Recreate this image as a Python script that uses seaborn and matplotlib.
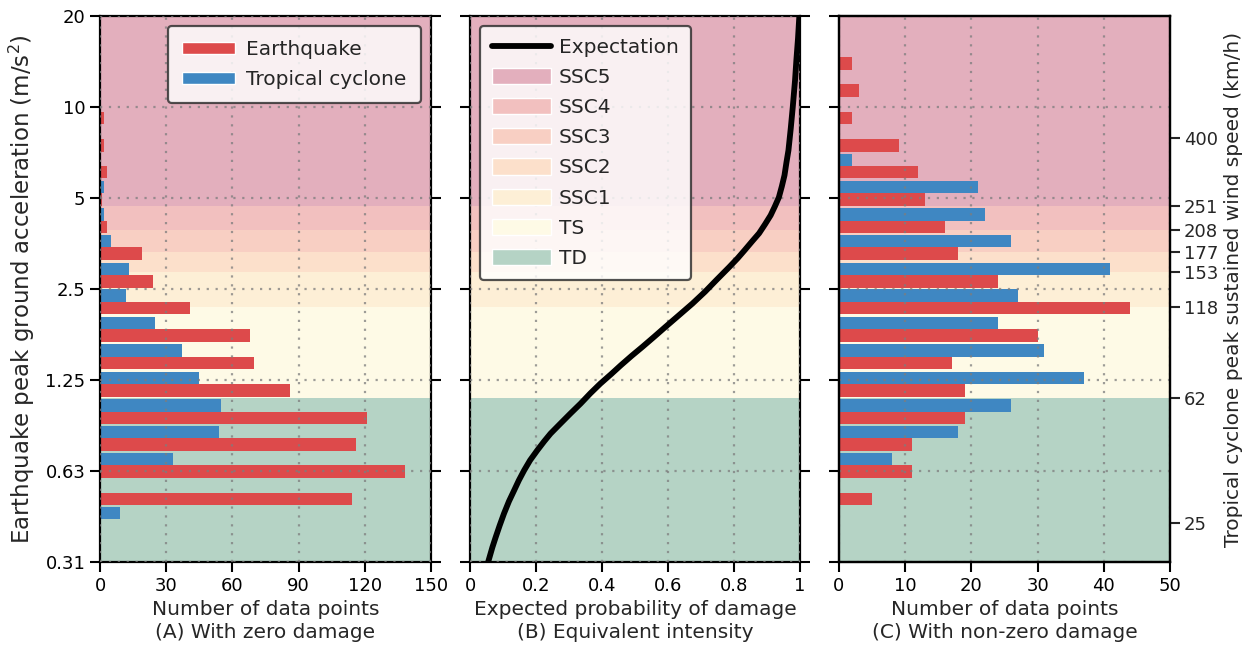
import numpy as np
import pandas as pd
import matplotlib
matplotlib.use("Agg")
import matplotlib.pyplot as plt
import seaborn as sns
from matplotlib.patches import Patch
from matplotlib.lines import Line2D
from matplotlib.ticker import NullLocator

# ---------------- data ----------------
hazards = ["Earthquake", "Tropical cyclone"]
pga_bins = [14.6, 11.9, 9.66, 7.83, 6.38, 5.19, 4.21, 3.44, 2.78, 2.27,
            1.84, 1.49, 1.21, 0.983, 0.803, 0.652, 0.530, 0.432]
zero_eq = [0, 0, 2, 2, 3, 1, 3, 19, 24, 41, 68, 70, 86, 121, 116, 138, 114, 0]
zero_tc = [0, 0, 0, 0, 0, 2, 2, 5, 13, 12, 25, 37, 45, 55, 54, 33, 0, 9]
nonzero_eq = [2, 3, 2, 9, 12, 13, 16, 18, 24, 44, 30, 17, 19, 19, 11, 11, 5, 0]
nonzero_tc = [0, 0, 0, 0, 2, 21, 22, 26, 41, 27, 24, 31, 37, 26, 18, 8, 0, 0]

curve_pga = [0.3125, 0.350, 0.378, 0.413, 0.452, 0.496, 0.540, 0.582, 0.628, 0.678,
             0.732, 0.784, 0.831, 0.897, 0.970, 1.044, 1.130, 1.216, 1.305, 1.398,
             1.503, 1.607, 1.737, 1.872, 2.046, 2.237, 2.447, 2.672, 2.950, 3.159,
             3.357, 3.595, 3.821, 4.092, 4.382, 4.694, 5.027, 5.465, 5.943, 6.562,
             7.189, 8.502, 9.977, 12.26, 14.27, 16.87, 20.0]
curve_prob = [0.055, 0.068, 0.078, 0.090, 0.103, 0.118, 0.134, 0.148, 0.164, 0.182,
              0.204, 0.225, 0.244, 0.274, 0.305, 0.335, 0.365, 0.395, 0.427, 0.457,
              0.490, 0.522, 0.558, 0.592, 0.633, 0.674, 0.712, 0.746, 0.785, 0.811,
              0.832, 0.855, 0.876, 0.894, 0.911, 0.924, 0.936, 0.945, 0.953, 0.959,
              0.965, 0.972, 0.978, 0.985, 0.989, 0.994, 0.998]

categories = ["SSC5", "SSC4", "SSC3", "SSC2", "SSC1", "TS", "TD"]
category_lower = [4.72, 3.91, 3.31, 2.84, 2.175, 1.093, 0.3125]
category_upper = [20.0, 4.72, 3.91, 3.31, 2.84, 2.175, 1.093]
category_colors = ["#e3afbd", "#f2c0bf", "#f8cfc3", "#fce0cb", "#fdefd6", "#fefae6", "#b5d3c5"]

pga_ticks = [0.3125, 0.625, 1.25, 2.5, 5, 10, 20]
pga_ticklabels = ["0.31", "0.63", "1.25", "2.5", "5", "10", "20"]
wind_ticks = [25, 62, 118, 153, 177, 208, 251, 400]
wind_tick_pga = [0.4205, 1.093, 2.175, 2.84, 3.31, 3.91, 4.72, 7.88]

red = "#dd4a4b"
blue = "#3f87c2"

# ---------------- style ----------------
sns.set_style("ticks")
plt.rcParams["font.family"] = ["DejaVu Sans"]
plt.rcParams["axes.linewidth"] = 1.6
plt.rcParams["axes.edgecolor"] = "black"

FS_TICK = 13
FS_LAB = 14.5

W, H = 1257, 652
fig = plt.figure(figsize=(W / 100, H / 100), dpi=100)


def rect(x0, x1, y0, y1):
    return [x0 / W, 1 - y1 / H, (x1 - x0) / W, (y1 - y0) / H]


axA = fig.add_axes(rect(100, 431, 16, 562))
axB = fig.add_axes(rect(470, 800, 16, 562))
axC = fig.add_axes(rect(839, 1170, 16, 562))


def long_df(eq, tc):
    n = len(pga_bins)
    return pd.DataFrame({
        "pga": pga_bins * 2,
        "count": list(eq) + list(tc),
        "hazard": [hazards[0]] * n + [hazards[1]] * n,
    })


for ax in (axA, axB, axC):
    ax.set_yscale("log")

bar_kw = dict(x="count", y="pga", hue="hazard", hue_order=hazards, palette=[red, blue],
              orient="y", native_scale=True, width=0.94, errorbar=None, legend=False,
              linewidth=0, saturation=1, zorder=2)
sns.barplot(data=long_df(zero_eq, zero_tc), ax=axA, **bar_kw)
sns.barplot(data=long_df(nonzero_eq, nonzero_tc), ax=axC, **bar_kw)
sns.lineplot(x=curve_prob, y=curve_pga, ax=axB, color="black", linewidth=4.2,
             sort=False, estimator=None, zorder=3, solid_joinstyle="round",
             solid_capstyle="butt")

grid_kw = dict(linestyle=(0, (1, 3)), color="#7d7d7d", linewidth=1.6, alpha=0.75)
for ax in (axA, axB, axC):
    ax.set_yscale("log")
    ax.set_ylim(0.3125, 20)
    for lo, hi, c in zip(category_lower, category_upper, category_colors):
        ax.axhspan(lo, hi, color=c, lw=0, zorder=0)
    ax.set_yticks(pga_ticks)
    ax.set_yticklabels(pga_ticklabels)
    ax.yaxis.set_minor_locator(NullLocator())
    ax.set_axisbelow(False)
    ax.grid(True, which="major", **grid_kw)
    ax.tick_params(axis="both", which="major", direction="out", length=7, width=1.5,
                   labelsize=FS_TICK, colors="black")
    ax.set_ylabel("")
    for s in ax.spines.values():
        s.set_visible(True)
        s.set_linewidth(1.6)
        s.set_color("black")

axA.set_xlim(0, 150)
axA.set_xticks([0, 30, 60, 90, 120, 150])
axA.tick_params(axis="y", left=True, right=True, labelleft=True)
axA.set_ylabel("Earthquake peak ground acceleration (m/s$^2$)", fontsize=16.5, labelpad=6)

axB.set_xlim(0, 1)
axB.set_xticks([0, 0.2, 0.4, 0.6, 0.8, 1.0])
axB.set_xticklabels(["0", "0.2", "0.4", "0.6", "0.8", "1"])
axB.tick_params(axis="y", left=True, right=True, labelleft=False)

axC.set_xlim(0, 50)
axC.set_xticks([0, 10, 20, 30, 40, 50])
axC.tick_params(axis="y", left=True, right=False, labelleft=False)

axA.set_xlabel("Number of data points", fontsize=FS_LAB)
axB.set_xlabel("Expected probability of damage", fontsize=FS_LAB)
axC.set_xlabel("Number of data points", fontsize=FS_LAB)

axW = axC.twinx()
axW.set_yscale("log")
axW.set_ylim(0.3125, 20)
axW.set_yticks(wind_tick_pga)
axW.set_yticklabels([str(w) for w in wind_ticks])
axW.yaxis.set_minor_locator(NullLocator())
axW.tick_params(axis="y", direction="out", length=7, width=1.5, labelsize=FS_TICK, pad=3)
axW.set_ylabel("Tropical cyclone peak sustained wind speed (km/h)", fontsize=FS_LAB)
for s in axW.spines.values():
    s.set_linewidth(1.6)

# legends
leg_kw = dict(fontsize=FS_LAB, frameon=True, framealpha=0.82, edgecolor="#2b2b2b",
              fancybox=True)
hA = [Patch(facecolor=red, label=hazards[0]), Patch(facecolor=blue, label=hazards[1])]
legA = axA.legend(handles=hA, loc="upper right", handlelength=2.65, handleheight=0.55,
                  labelspacing=0.55, borderpad=0.7, handletextpad=0.55, **leg_kw)
legA.get_frame().set_linewidth(1.6)

hB = [Line2D([0], [0], color="black", lw=4.2, label="Expectation")]
hB += [Patch(facecolor=c, label=n) for n, c in zip(categories, category_colors)]
legB = axB.legend(handles=hB, loc="upper left", handlelength=2.9, handleheight=0.85,
                  labelspacing=0.55, borderpad=0.6, handletextpad=0.4, **leg_kw)
legB.get_frame().set_linewidth(1.6)

# panel subtitles
for ax, t in zip((axA, axB, axC), ["(A) With zero damage", "(B) Equivalent intensity",
                                  "(C) With non-zero damage"]):
    ax.text(0.5, -(633 - 562) / 546, t, transform=ax.transAxes, ha="center",
            va="center", fontsize=FS_LAB)

fig.savefig("out.png", dpi=100)
